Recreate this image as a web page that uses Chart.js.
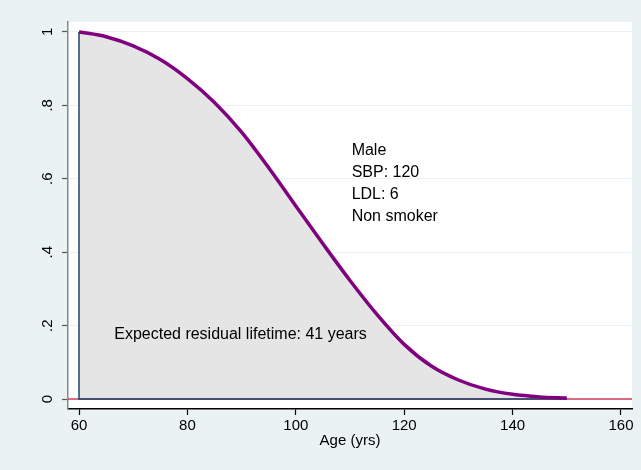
<!DOCTYPE html>
<html>
<head>
<meta charset="utf-8">
<script src="https://cdn.jsdelivr.net/npm/chart.js@4"></script>
<style>
  body { margin: 0; background: #eaf2f3; }
  #wrap { width: 641px; height: 470px; }
</style>
</head>
<body>
<div id="wrap"><canvas id="surv"></canvas></div>
<script>
// survival curve
const ages = [60, 65, 70, 75, 80, 85, 90, 95, 100, 105, 110, 115, 120, 125, 130, 135, 140, 145, 150];
const survival = [1, 0.987, 0.962, 0.925, 0.873, 0.808, 0.727, 0.63, 0.526, 0.423, 0.323, 0.23, 0.149, 0.09, 0.052, 0.027, 0.013, 0.006, 0.003];

// axis ticks
const xTicks = [60, 80, 100, 120, 140, 160];
const yTicks = [0, 0.2, 0.4, 0.6, 0.8, 1];
const yTickLabels = ["0", ".2", ".4", ".6", ".8", "1"];

const xMin = 57.97, xMax = 162.03;
const yMin = -0.027, yMax = 1.027;

const noteLines = ["Male", "SBP: 120", "LDL: 6", "Non smoker"];
const lifetimeText = "Expected residual lifetime: 41 years";

const font = '"Liberation Sans", Arial, Helvetica, sans-serif';

const curve = ages.map((a, i) => ({ x: a, y: survival[i] }));

// bakgrund + vit ritarea
const bgPlugin = {
  id: "bg",
  beforeDraw(chart) {
    const { ctx, chartArea: ca } = chart;
    ctx.save();
    ctx.fillStyle = "#eaf2f3";
    ctx.fillRect(0, 0, chart.width, chart.height);
    ctx.fillStyle = "#ffffff";
    ctx.fillRect(ca.left, ca.top, ca.right - ca.left, ca.bottom - ca.top);
    ctx.restore();
  },
};

// roterade y-etiketter och texterna i diagrammet
const textPlugin = {
  id: "texts",
  afterDraw(chart) {
    const { ctx } = chart;
    const xs = chart.scales.x;
    const ys = chart.scales.y;
    ctx.save();
    ctx.fillStyle = "#000";
    ctx.font = "15px " + font;
    ctx.textAlign = "center";
    ctx.textBaseline = "middle";
    ys.ticks.forEach((t, i) => {
      ctx.save();
      ctx.translate(chart.chartArea.left - 20, ys.getPixelForValue(t.value));
      ctx.rotate(-Math.PI / 2);
      ctx.fillText(yTickLabels[i], 0, 0);
      ctx.restore();
    });

    ctx.font = "16px " + font;
    ctx.textAlign = "left";
    const nx = xs.getPixelForValue(110.3);
    const ny = ys.getPixelForValue(0.676);
    noteLines.forEach((line, i) => ctx.fillText(line, nx, ny + i * 22));
    ctx.fillText(lifetimeText, xs.getPixelForValue(66.5), ys.getPixelForValue(0.177));
    ctx.restore();
  },
};

const config = {
  type: "scatter",
  data: {
    datasets: [
      {
        // purple survival line
        data: curve,
        showLine: true,
        borderColor: "#800080",
        borderWidth: 3.5,
        pointRadius: 0,
        cubicInterpolationMode: "monotone",
        fill: false,
        order: 1,
      },
      {
        // area outline
        data: [{ x: 60, y: 1 }, { x: 60, y: 0 }, { x: 150, y: 0 }],
        showLine: true,
        borderColor: "#1a476f",
        borderWidth: 1.5,
        pointRadius: 0,
        order: 2,
      },
      {
        // yline(0)
        data: [{ x: xMin, y: 0 }, { x: xMax, y: 0 }],
        showLine: true,
        borderColor: "#d03a5c",
        borderWidth: 1.5,
        pointRadius: 0,
        order: 3,
      },
      {
        // gray area under curve
        data: curve,
        showLine: true,
        borderWidth: 0,
        borderColor: "rgba(0,0,0,0)",
        backgroundColor: "#e5e5e5",
        pointRadius: 0,
        cubicInterpolationMode: "monotone",
        fill: "origin",
        order: 4,
      },
    ],
  },
  options: {
    responsive: true,
    maintainAspectRatio: false,
    animation: false,
    layout: { padding: { top: 22, right: 9, left: 0, bottom: 0 } },
    plugins: {
      legend: { display: false },
      tooltip: { enabled: false },
      filler: { drawTime: "beforeDatasetsDraw" },
    },
    scales: {
      x: {
        type: "linear",
        min: xMin,
        max: xMax,
        afterBuildTicks: (s) => { s.ticks = xTicks.map((v) => ({ value: v })); },
        afterFit: (s) => { s.height = 61; },
        grid: { drawOnChartArea: false, tickLength: 6, tickColor: "#000", tickWidth: 1.2 },
        border: { color: "#000", width: 1.5 },
        ticks: { color: "#000", font: { size: 15, family: font }, padding: 2, maxRotation: 0 },
        title: { display: true, text: "Age (yrs)", color: "#000", font: { size: 15, family: font }, padding: { top: 0, bottom: 20 } },
      },
      y: {
        type: "linear",
        min: yMin,
        max: yMax,
        afterBuildTicks: (s) => { s.ticks = yTicks.map((v) => ({ value: v })); },
        afterFit: (s) => { s.width = 68; },
        grid: { color: "#eaf2f3", tickLength: 6, tickColor: "#555", tickWidth: 1.2 },
        border: { color: "#888", width: 1.5 },
        ticks: { display: false },
      },
    },
  },
  plugins: [bgPlugin, textPlugin],
};

const canvas = document.getElementById("surv");
const chart = new Chart(canvas, config);
</script>
</body>
</html>
